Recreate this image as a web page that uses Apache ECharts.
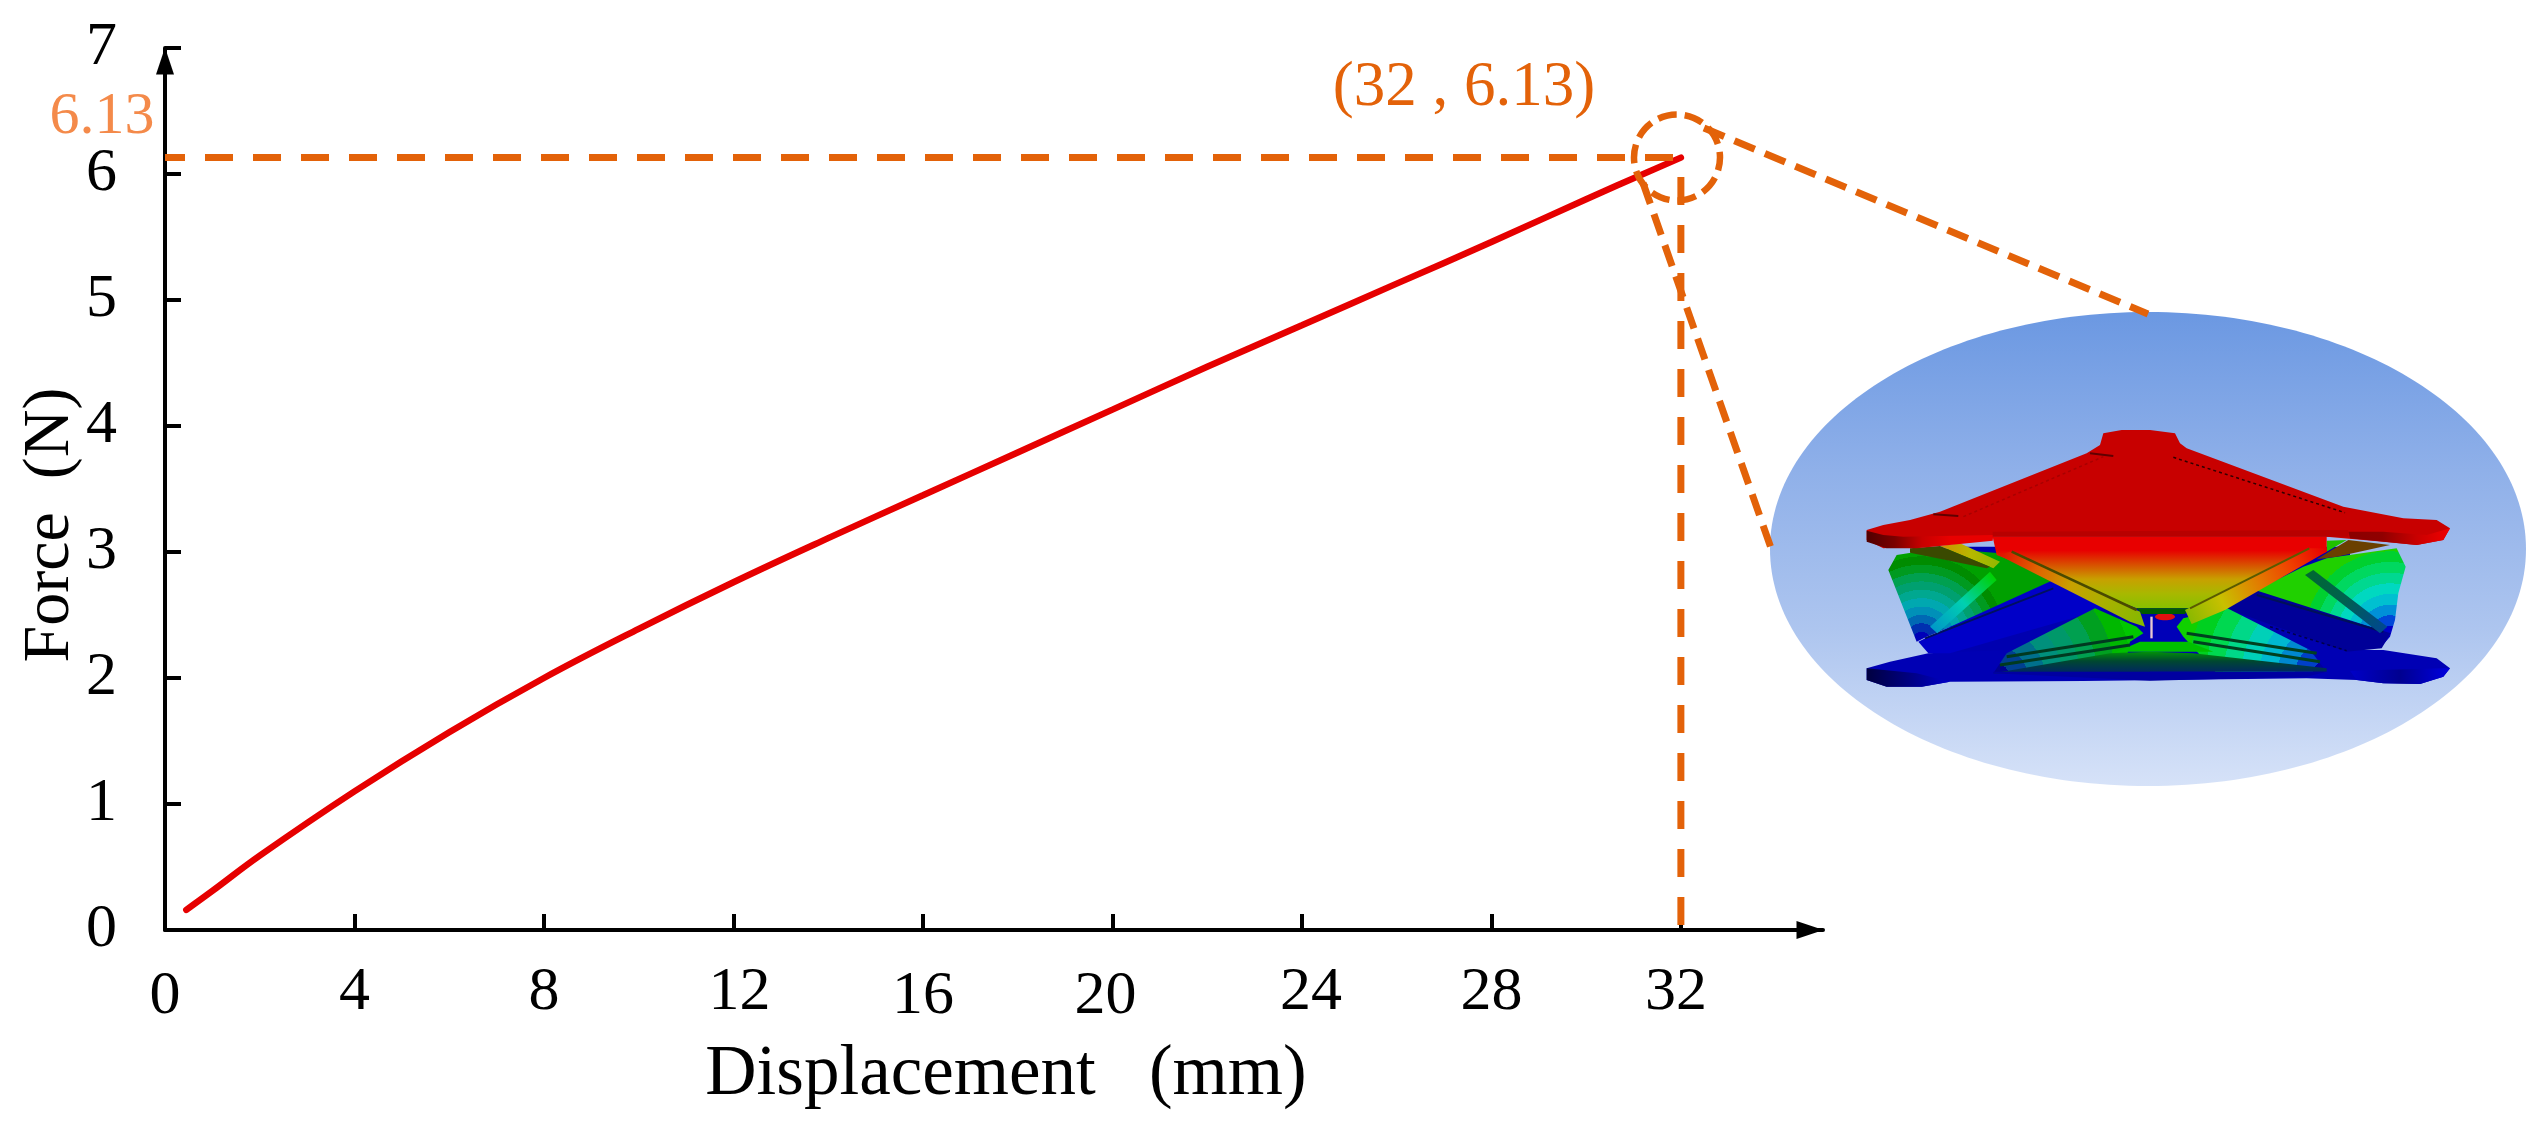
<!DOCTYPE html>
<html><head><meta charset="utf-8">
<style>html,body{margin:0;padding:0;background:#fff}#c{width:2542px;height:1132px}</style>
<script src="https://cdn.jsdelivr.net/npm/echarts@6/dist/echarts.min.js"></script>
</head><body><div id="c"></div>
<script>
const displacement = [0.45,1,2,4,6,8,10,12,14,16,18,20,22,24,26,28,30,32];
const force = [0.16,0.31,0.59,1.1,1.57,2.0,2.39,2.76,3.11,3.45,3.79,4.13,4.47,4.8,5.13,5.46,5.8,6.13];
const xTicks = [0,4,8,12,16,20,24,28,32];
const yTicks = [0,1,2,3,4,5,6,7];
const peakX = 32, peakY = 6.13;
const xTitle = 'Displacement   (mm)', yTitle = 'Force  (N)';
const peakLabel = '(32 , 6.13)', peakYLabel = '6.13';

const serif = '"Liberation Serif","Times New Roman",serif';
const orange = '#E36209', black = '#000';
const xStyle = {0:'low',4:'base',8:'base',12:'s12',16:'low',20:'s20',24:'s24',28:'base',32:'s32'};
const F = 62;
const rich = {
  base:{fontSize:F,fontFamily:serif,color:black,padding:[0,0,0,0]},
  low:{fontSize:F,fontFamily:serif,color:black,padding:[4,0,0,0]},
  s12:{fontSize:F,fontFamily:serif,color:black,padding:[0,0,4,12]},
  s20:{fontSize:F,fontFamily:serif,color:black,padding:[4,14,0,0]},
  s24:{fontSize:F,fontFamily:serif,color:black,padding:[0,0,0,18]},
  s32:{fontSize:F,fontFamily:serif,color:black,padding:[0,10,0,0]}
};

/* inset illustration, authored in crop-local units */
const L=(x,y)=>[1850+x/3,420+y/3], R=(x,y)=>[2150+x/3,420+y/3];
const poly=(pts,fill,z)=>({type:'polygon',silent:true,z:z||5,shape:{points:pts},style:{fill}});
const seg=(a,b,c,w,d)=>({type:'line',silent:true,z:5,shape:{x1:a[0],y1:a[1],x2:b[0],y2:b[1]},style:{stroke:c,lineWidth:w,lineDash:d||null}});
const lin=(a,b,cols)=>({type:'linear',global:true,x:a[0],y:a[1],x2:b[0],y2:b[1],colorStops:cols.map((c,i)=>({offset:i/(cols.length-1),color:c}))});
const steps=cols=>{const o=[];cols.forEach((c,i)=>{o.push({offset:i/cols.length,color:c},{offset:(i+1)/cols.length,color:c});});return o;};
const rad=(c,r,cols)=>({type:'radial',global:true,x:c[0],y:c[1],r,colorStops:steps(cols)});
const fanCols=['#0000b8','#0030b0','#0068b4','#0090b8','#00a8b0','#00a890','#00a070','#00a050','#009a20','#008c00','#00a000'];
const fanColsR=['#0000c8','#0048d8','#0090d8','#00c0d0','#00d8c0','#00d890','#00d860','#00d030','#20d000'];

const inset=[
  {type:'ellipse',silent:true,z:4,shape:{cx:2148,cy:549,rx:378,ry:237},style:{fill:lin([0,312],[0,786],['#6b98e2','#8fb0e9','#adc5ef','#d6e2f8'])}},
  // backing between the plates
  poly([L(300,380),R(600,380),R(600,700),L(300,700)],'#0000b0'),
  // bottom plate
  poly([L(50,745),L(120,725),L(235,700),L(470,690),L(900,690),R(0,690),R(700,690),R(860,715),R(900,745),R(880,770),R(810,792),R(700,790),R(620,780),R(470,775),L(700,783),L(300,785),L(215,800),L(110,800),L(50,780)],'#0000b4'),
  poly([L(50,745),L(200,760),L(300,785),L(215,800),L(110,800),L(50,780)],lin(L(50,0),L(300,0),['#000040','#000080','#0000c8'])),
  poly([R(600,752),R(880,745),R(900,745),R(880,770),R(810,792),R(700,790),R(620,780)],lin(R(600,0),R(900,0),['#0000c8','#000090','#0000e0'])),
  // left fan
  poly([L(115,450),L(140,405),L(270,385),L(450,400),L(620,490),L(230,650),L(200,665)],rad(L(215,660),92,fanCols)),
  // left blue strut
  poly([L(205,665),L(235,650),L(610,480),L(770,565),L(300,700),L(235,700)],'#0000c8'),
  seg(L(225,655),L(610,505),'#001060',2),
  poly([L(240,620),L(420,455),L(440,480),L(262,640)],lin(L(250,630),L(430,465),['#0098c8','#00d0b0','#00d000'])),
  // right fan
  poly([R(460,440),R(530,415),R(740,385),R(767,440),R(745,520),R(735,600),R(720,650),R(690,685),R(240,560),R(320,510)],rad(R(720,650),96,fanColsR)),
  poly([R(225,565),R(315,510),R(722,640),R(695,685),R(590,695)],'#000098'),
  seg(R(320,525),R(700,635),'#001058',2),
  seg(R(360,620),R(590,692),'#00004a',1.5,[3,3]),
  poly([R(465,465),R(490,450),R(712,620),R(690,640)],lin(R(470,455),R(700,630),['#006a30','#006050','#004890'])),
  // centre hub
  poly([L(870,600),R(100,600),R(100,665),L(870,665)],'#0000b8'),
  {type:'ellipse',silent:true,z:5,shape:{cx:R(45,590)[0],cy:R(45,590)[1],rx:10,ry:3.5},style:{fill:'#e01010'}},
  poly([R(1,590),R(8,590),R(8,655),R(1,655)],'#e8c8d0'),
  // lower central fans
  poly([L(430,760),L(470,700),L(735,565),L(860,620),L(880,640),L(840,665),L(820,760)],rad(L(430,780),157,['#000090','#004090','#00708c','#00907c','#00986a','#00a050','#00a020','#00b800','#00c800'])),
  poly([R(530,755),R(480,690),R(232,565),R(100,595),R(80,620),R(100,650),R(200,760)],rad(R(540,770),160,['#0000a0','#0040c8','#0088d0','#00b8d0','#00d0b8','#00d888','#00d850','#00d020','#10d000'])),
  poly([L(780,700),L(900,695),R(0,695),R(130,700),R(530,745),R(530,755),R(470,755),R(0,755),L(900,760),L(430,760)],lin([0,650],[0,672],['#00a000','#004830','#002860'])),
  poly([L(870,665),L(900,665),R(0,665),R(115,665),R(190,695),L(800,695)],'#00c000'),
  seg(L(470,710),L(850,650),'#003a20',3),seg(L(450,735),L(840,675),'#003a20',3),
  seg(R(110,640),R(500,700),'#004020',3),seg(R(130,665),R(510,725),'#004020',3),
  poly([L(430,755),L(900,755),R(0,755),R(470,755),R(530,755),R(470,770),L(900,782),L(430,760)],'#0000a0'),
  // bars beneath the top plate
  poly([L(270,378),L(330,370),L(450,425),L(430,445)],lin(L(270,0),L(450,0),['#d09000','#b8b800','#90b800'])),
  poly([L(180,385),L(270,378),L(420,440),L(410,445),L(180,398)],'#3a4a00'),
  poly([R(500,418),R(595,360),R(720,375),R(560,410)],'#6a4000'),
  poly([R(530,362),R(590,360),R(530,395)],'#20c000'),
  // upper cone
  poly([L(428,350),R(530,350),R(530,395),R(120,565),L(860,565),L(440,405)],lin([0,536],[0,608],['#e80000','#e80000','#d85000','#c8a000','#a8b800','#88c000'])),
  poly([L(860,565),R(115,565),R(105,582),L(875,582)],'#005a00'),
  poly([L(445,405),L(480,395),L(870,575),L(885,620),L(840,605)],lin(L(450,400),L(870,600),['#e01000','#e06000','#c8a000','#a8b000','#88b800'])),
  seg(L(485,395),L(860,570),'#4a4a00',2.5),
  poly([R(105,570),R(480,385),R(530,385),R(530,395),R(225,570),R(125,612)],lin(R(115,600),R(525,385),['#88b800','#c8c000','#e08000','#f04000','#e80000'])),
  seg(R(120,565),R(478,385),'#5a5a00',2),
  // top plate
  poly([L(50,330),L(100,315),L(180,300),L(270,275),L(710,100),L(750,75),L(760,40),L(815,30),R(0,30),R(75,40),R(90,70),R(110,85),R(580,260),R(760,295),R(860,300),R(900,325),R(880,360),R(800,375),R(700,365),R(530,350),L(428,350),L(260,375),L(100,385),L(50,360)],'#c80000'),
  poly([L(50,332),L(100,345),L(160,350),L(430,345),L(428,362),L(200,385),L(110,385),L(50,365)],lin(L(50,0),L(300,0),['#500000','#7a0000','#c80000','#e80000'])),
  poly([R(595,335),R(700,335),R(830,345),R(900,325),R(880,360),R(800,375),R(600,355)],lin(R(595,0),R(900,0),['#8a0000','#900000','#c80000','#f00000'])),
  poly([L(428,335),R(595,330),R(595,350),L(428,350)],'#b80000'),
  seg(R(70,112),R(585,278),'#300000',1.5,[3,3]),
  seg(L(340,290),L(760,110),'#a80000',1.5,[3,3]),
  seg(L(720,100),L(790,108),'#600000',2),seg(L(250,283),L(325,288),'#600000',2)
];

const annotations=[
  {type:'circle',silent:true,z:6,shape:{cx:1677,cy:157.5,r:43},style:{fill:'none',stroke:orange,lineWidth:6.5,lineDash:[19,8],lineDashOffset:6}},
  seg([1704,128],[2148,314],orange,7,[22,11]),
  seg([1643,183],[1771,548],orange,7,[22,11]),
  {type:'text',silent:true,z:6,x:1464,y:88,style:{text:peakLabel,font:'63px '+serif,fill:orange,align:'center',verticalAlign:'middle'}},
  {type:'text',silent:true,z:6,x:102,y:117,style:{text:peakYLabel,font:'60px '+serif,fill:'#F48A4A',align:'center',verticalAlign:'middle'}}
];

const chart=echarts.init(document.getElementById('c'),null,{renderer:'canvas'});
chart.setOption({
  animation:false,backgroundColor:'#fff',
  grid:{left:165,top:48,width:1658,height:882,containLabel:false,outerBoundsMode:'none'},
  xAxis:{type:'value',min:0,max:35,
    name:xTitle,nameLocation:'middle',nameGap:110,nameMoveOverlap:false,
    nameTextStyle:{fontFamily:serif,fontSize:71,color:black,padding:[0,0,0,24]},
    axisLine:{onZero:false,lineStyle:{color:black,width:4},symbol:['none','triangle'],symbolSize:[18,27],symbolOffset:[0,-13]},
    axisTick:{show:true,inside:true,length:16,lineStyle:{color:black,width:4},customValues:xTicks},
    splitLine:{show:false},
    axisLabel:{customValues:xTicks,margin:32,hideOverlap:false,color:black,fontFamily:serif,fontSize:F,
      formatter:v=>`{${xStyle[v]||'base'}|${v}}`,rich}},
  yAxis:{type:'value',min:0,max:7,interval:1,
    name:yTitle,nameLocation:'middle',nameGap:81,nameRotate:90,nameMoveOverlap:false,
    nameTextStyle:{fontFamily:serif,fontSize:66,color:black,padding:[0,72,0,0]},
    axisLine:{onZero:false,lineStyle:{color:black,width:4},symbol:['none','triangle'],symbolSize:[18,27],symbolOffset:[0,-13]},
    axisTick:{show:true,inside:true,length:16,lineStyle:{color:black,width:4}},
    splitLine:{show:false},
    axisLabel:{margin:48,hideOverlap:false,color:black,fontFamily:serif,fontSize:F,customValues:yTicks}},
  series:[
    {name:'Force',type:'line',z:3,data:displacement.map((d,i)=>[d,force[i]]),smooth:0.4,showSymbol:false,
     lineStyle:{color:'#E60000',width:6.5,cap:'round'}},
    {name:'Peak force guide',type:'line',z:4,data:[[0,peakY],[peakX,peakY]],showSymbol:false,
     lineStyle:{color:orange,width:7,type:[28,20],dashOffset:8}},
    {name:'Peak displacement guide',type:'line',z:4,data:[[peakX,0],[peakX,peakY]],showSymbol:false,
     lineStyle:{color:orange,width:7,type:[28,20],dashOffset:43}}
  ],
  graphic:{elements:inset.concat(annotations)}
});
</script></body></html>
